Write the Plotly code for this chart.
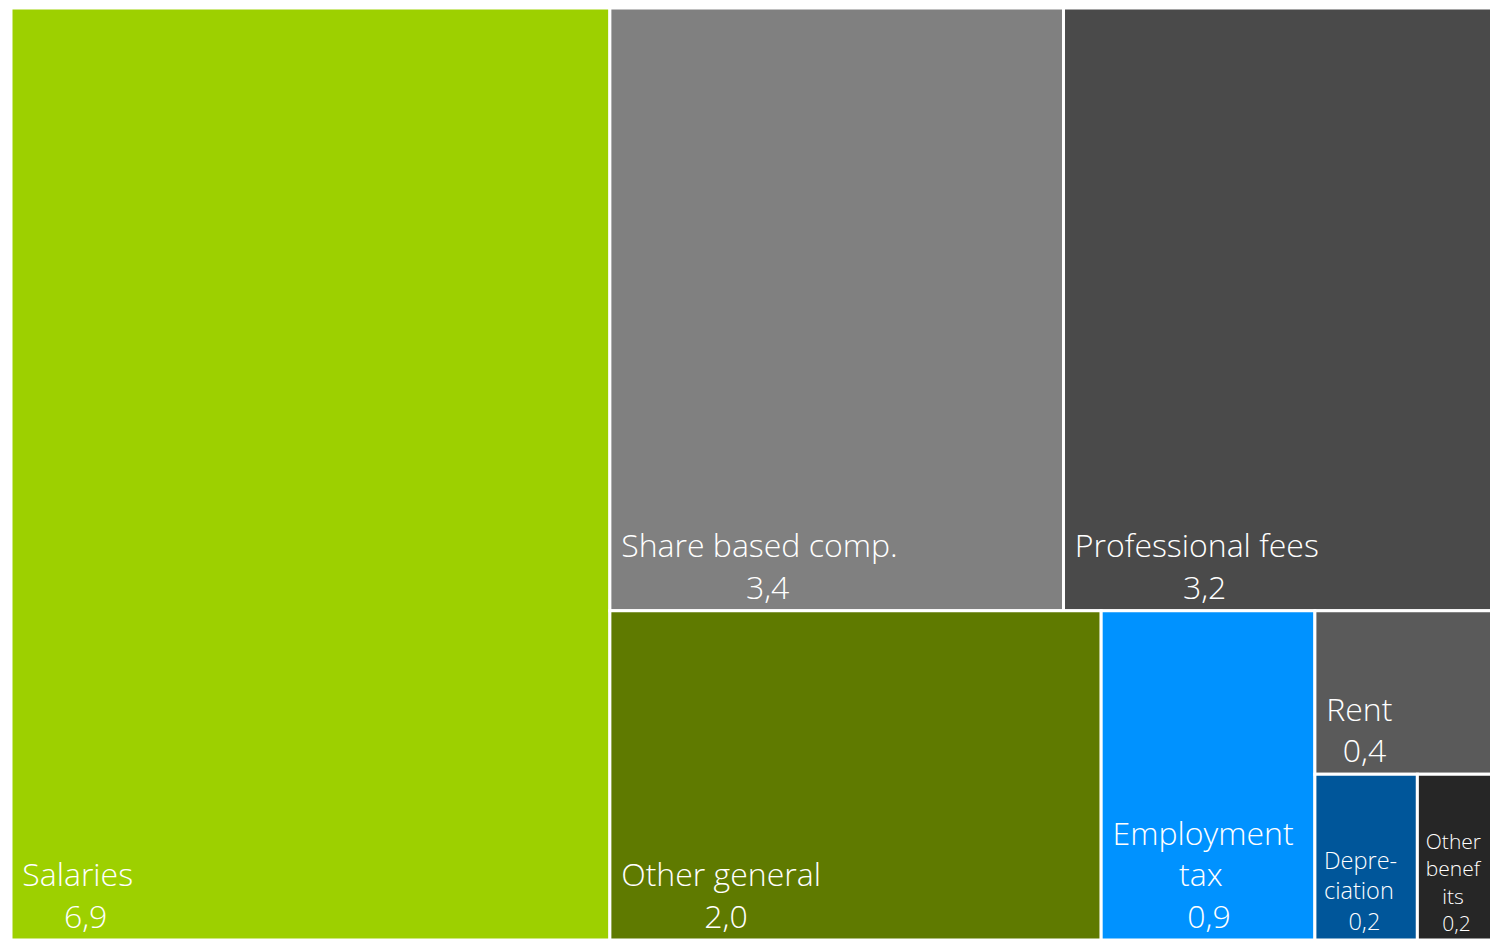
import plotly.graph_objects as go

# Data (values estimated from tile areas; shown rounded to one decimal)
labels = ["Salaries", "Share based comp.", "Professional fees", "Other general",
          "Employment tax", "Rent", "Depreciation", "Other benefits"]
values = [6.9, 3.38, 3.2, 2.0, 0.87, 0.36, 0.21, 0.155]

# Display line breaks as in the reference
label_lines = [["Salaries"], ["Share based comp."], ["Professional fees"], ["Other general"],
               ["Employment", "tax"], ["Rent"], ["Depre-", "ciation"], ["Other", "benef", "its"]]

# Styling
colors = ["#9DD000", "#808080", "#4A4A4A", "#5F7A00", "#0092FF", "#5A5A5A", "#00569A", "#262626"]
lead = [1, 1, 1, 1, 1, 1, 1, 1]
line_pads = [[0], [0], [0], [0], [0, 8], [0], [0, 0], [0, 0, 3]]
value_pads = [5, 15, 13, 10, 9, 2, 4, 3]
font_sizes = [32, 32, 32, 32, 32, 32, 23.5, 21]

NB = "\u00a0"


def fmt(v):
    return f"{v:.1f}".replace(".", ",")


texts = []
for lines, pads, vp, v, ld in zip(label_lines, line_pads, value_pads, values, lead):
    parts = [NB * (p + ld) + ln for ln, p in zip(lines, pads)]
    parts.append(NB * (vp + ld) + fmt(v))
    texts.append("<br>".join(parts))

ROOT = "Total"
ids = [ROOT] + labels
parents = [""] + [ROOT] * len(labels)
all_values = [sum(values)] + values
all_texts = [""] + texts
all_colors = ["white"] + colors
all_sizes = [1] + font_sizes

fig = go.Figure(go.Treemap(
    ids=ids,
    labels=ids,
    parents=parents,
    values=all_values,
    branchvalues="total",
    text=all_texts,
    textinfo="text",
    textposition="bottom left",
    textfont=dict(family="Open Sans", size=all_sizes, color="white", weight=300),
    marker=dict(colors=all_colors, line=dict(color="white", width=3),
                pad=dict(t=0, l=0, r=0, b=0)),
    tiling=dict(packing="squarify", pad=0),
    pathbar=dict(visible=False),
))

fig.update_layout(
    width=1490, height=932,
    margin=dict(l=3, r=5, t=0, b=0),
    paper_bgcolor="white",
)

fig.write_html("out.html")
